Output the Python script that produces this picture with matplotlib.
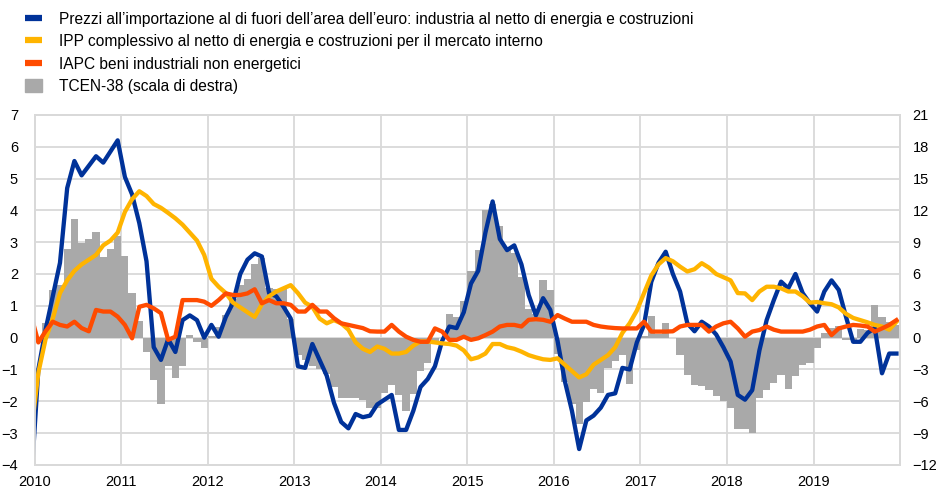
import numpy as np
import matplotlib.pyplot as plt
from matplotlib.lines import Line2D
import matplotlib.patches as mpatches

plt.rcParams["font.family"] = ["Liberation Sans", "DejaVu Sans"]

# monthly data, Dec 2009 .. Dec 2019 for the lines (first point falls just left of the axis)
import_prices = [
    -4.6, -1.0, 0.25, 1.3, 2.35, 4.7, 5.55, 5.1, 5.4, 5.7, 5.5, 5.85, 6.2,
    5.05, 4.5, 3.6, 2.4, -0.3, -0.7, -0.05, -0.45, 0.55, 0.7, 0.55, 0.0,
    0.4, 0.03, 0.65, 1.1, 2.0, 2.45, 2.65, 2.55, 1.4, 1.3, 0.97, 0.6,
    -0.9, -0.95, -0.2, -0.7, -1.2, -2.05, -2.65, -2.85, -2.4, -2.5, -2.45, -2.1,
    -1.95, -1.8, -2.9, -2.9, -2.3, -1.55, -1.3, -0.9, -0.1, 0.35, 0.3, 0.8,
    1.7, 2.1, 3.3, 4.28, 3.1, 2.75, 2.9, 2.3, 1.34, 0.7, 1.24, 0.87,
    -0.1, -1.35, -2.3, -3.5, -2.6, -2.45, -2.2, -1.8, -1.75, -0.95, -1.0, -0.15,
    0.4, 1.75, 2.35, 2.7, 2.0, 1.45, 0.45, 0.2, 0.5, 0.35, 0.1, -0.3,
    -0.75, -1.8, -1.95, -1.65, -0.4, 0.55, 1.18, 1.76, 1.55, 2.0, 1.4, 1.08,
    0.82, 1.45, 1.8, 1.5, 0.66, -0.13, -0.13, 0.15, 0.3, -1.12, -0.5, -0.5,
]
ppi_domestic = [
    -3.0, -1.1, -0.05, 0.6, 1.4, 1.8, 2.1, 2.3, 2.45, 2.6, 2.9, 3.05, 3.3,
    3.95, 4.35, 4.6, 4.45, 4.2, 4.08, 3.92, 3.75, 3.55, 3.3, 3.05, 2.6,
    1.85, 1.6, 1.4, 1.1, 0.95, 0.8, 0.65, 1.05, 1.3, 1.45, 1.55, 1.65,
    1.4, 1.1, 0.97, 0.6, 0.45, 0.55, 0.45, 0.25, -0.15, -0.35, -0.45, -0.28,
    -0.35, -0.5, -0.5, -0.45, -0.25, -0.12, -0.12, -0.15, -0.18, -0.2, -0.25, -0.4,
    -0.68, -0.62, -0.5, -0.2, -0.2, -0.3, -0.35, -0.44, -0.55, -0.62, -0.68, -0.7,
    -0.65, -0.85, -1.05, -1.25, -1.15, -0.85, -0.7, -0.55, -0.3, 0.15, 0.45, 0.85,
    1.4, 1.95, 2.3, 2.5, 2.4, 2.23, 2.08, 2.15, 2.34, 2.2, 2.0, 1.9,
    1.8, 1.4, 1.39, 1.18, 1.45, 1.6, 1.6, 1.55, 1.45, 1.45, 1.3, 1.1,
    1.12, 1.08, 1.05, 0.95, 0.75, 0.62, 0.55, 0.48, 0.4, 0.35, 0.25, 0.5,
]
hicp_neig = [
    0.7, -0.15, 0.2, 0.5, 0.4, 0.35, 0.5, 0.3, 0.2, 0.87, 0.82, 0.82, 0.66,
    0.4, -0.02, 0.97, 1.03, 0.92, 0.77, -0.07, 0.03, 1.18, 1.18, 1.18, 1.13,
    1.0, 1.18, 1.39, 1.34, 1.34, 1.39, 1.52, 1.08, 1.18, 1.08, 1.08, 1.03,
    0.82, 0.82, 1.03, 0.82, 0.82, 0.61, 0.45, 0.4, 0.35, 0.3, 0.2, 0.19,
    0.19, 0.4, 0.19, 0.03, -0.07, -0.13, -0.13, 0.29, 0.19, -0.07, -0.07, 0.03,
    -0.07, -0.02, 0.08, 0.19, 0.35, 0.4, 0.4, 0.35, 0.56, 0.58, 0.56, 0.5,
    0.71, 0.6, 0.5, 0.5, 0.5, 0.4, 0.35, 0.32, 0.3, 0.29, 0.29, 0.29,
    0.5, 0.19, 0.19, 0.19, 0.2, 0.35, 0.4, 0.4, 0.4, 0.19, 0.35, 0.45,
    0.5, 0.29, 0.03, 0.19, 0.24, 0.35, 0.25, 0.19, 0.19, 0.19, 0.19, 0.25,
    0.35, 0.4, 0.08, 0.29, 0.35, 0.4, 0.38, 0.35, 0.19, 0.29, 0.4, 0.55,
]
# TCEN-38, Jan 2010 .. Dec 2019 (right scale)
neer38 = [
    0.0, 1.35, 4.5, 5.0, 8.4, 11.2, 8.9, 9.3, 10.0, 7.6, 8.4, 9.6,
    7.7, 4.2, 1.6, -1.4, -4.0, -6.3, -2.7, -3.8, -2.7, 0.25, -0.4, -1.0,
    0.2, 1.0, 2.1, 3.6, 5.0, 5.5, 6.9, 7.5, 4.7, 4.6, 4.6, 1.8,
    -1.65, -2.1, -2.7, -3.0, -3.45, -4.65, -5.7, -5.7, -5.7, -5.85, -6.6, -6.6,
    -5.25, -4.5, -5.4, -6.9, -5.3, -3.1, -2.4, -0.6, 0.0, 2.25, 1.95, 3.45,
    6.3, 8.25, 12.0, 12.6, 10.5, 8.55, 7.95, 5.7, 2.7, 2.25, 5.4, 4.5,
    -1.5, -4.2, -6.3, -8.1, -6.1, -4.8, -5.2, -2.9, -2.2, -1.6, -4.35, -1.2,
    0.2, 2.0, 0.3, 1.4, 0.0, -1.6, -3.5, -4.5, -4.6, -4.9, -5.5, -6.0,
    -6.6, -8.6, -8.6, -9.0, -5.7, -4.9, -4.3, -3.5, -4.8, -3.6, -2.6, -2.35,
    -1.0, 0.4, 0.9, 1.1, -0.2, -0.2, 0.85, 0.7, 3.05, 1.9, 1.5, 1.2,
]
years = list(range(2010, 2020))

BLUE = "#003299"
YELLOW = "#FFB400"
ORANGE = "#FF4B00"
GREY = "#A9A9A9"
GRID = "#D9D9D9"

x_line = 2010 + (np.arange(-1, 120) + 0.5) / 12
x_bar = 2010 + (np.arange(120) + 0.5) / 12

fig = plt.figure(figsize=(9.39, 4.92), dpi=100)
ax2 = fig.add_axes([0.037, 0.055, 0.9215, 0.7115])
ax = ax2.twinx()
ax.set_zorder(ax2.get_zorder() + 1)
ax.patch.set_visible(False)

# bars on the right scale, with the grid underneath
ax2.bar(x_bar, neer38, width=1 / 12, color=GREY, linewidth=0, zorder=2)
ax2.set_ylim(-12, 21)
ax2.set_yticks(range(-12, 22, 3))
ax2.grid(True, color=GRID, lw=1.3, zorder=0)
ax2.set_axisbelow(True)

ax.plot(x_line, import_prices, color=BLUE, lw=3.1, solid_joinstyle="round")
ax.plot(x_line, ppi_domestic, color=YELLOW, lw=3.1, solid_joinstyle="round")
ax.plot(x_line, hicp_neig, color=ORANGE, lw=3.1, solid_joinstyle="round")
ax.set_ylim(-4, 7)
ax.set_yticks(range(-4, 8))
ax.set_xlim(2010, 2020)
ax.set_xticks(years)
ax.set_xticklabels([str(y) for y in years])

# left scale belongs to the lines, right scale to the bars
ax.yaxis.tick_left()
ax2.yaxis.tick_right()
for a in (ax, ax2):
    for sp in a.spines.values():
        sp.set_color(GRID)
        sp.set_linewidth(1.3)
ax.tick_params(axis="y", length=0, labelsize=10.5, pad=12)
ax2.tick_params(axis="y", length=0, labelsize=10.5, pad=9)
ax2.tick_params(axis="x", length=0, labelsize=10.5, pad=7)
ax.tick_params(axis="x", length=0, labelbottom=False)

handles = [
    Line2D([], [], color=BLUE, lw=4.5, solid_capstyle="butt"),
    Line2D([], [], color=YELLOW, lw=4.5, solid_capstyle="butt"),
    Line2D([], [], color=ORANGE, lw=4.5, solid_capstyle="butt"),
    mpatches.Patch(color=GREY),
]
labels = [
    "Prezzi all\u2019importazione al di fuori dell\u2019area dell\u2019euro: industria al netto di energia e costruzioni",
    "IPP complessivo al netto di energia e costruzioni per il mercato interno",
    "IAPC beni industriali non energetici",
    "TCEN-38 (scala di destra)",
]
fig.legend(handles, labels, loc="upper left", bbox_to_anchor=(25 / 939, 1 - 12 / 492),
           frameon=False, fontsize=11.2, handlelength=1.1, handleheight=0.9,
           handletextpad=1.1, labelspacing=0.47, borderpad=0, borderaxespad=0)

fig.savefig("out.png", dpi=100)
